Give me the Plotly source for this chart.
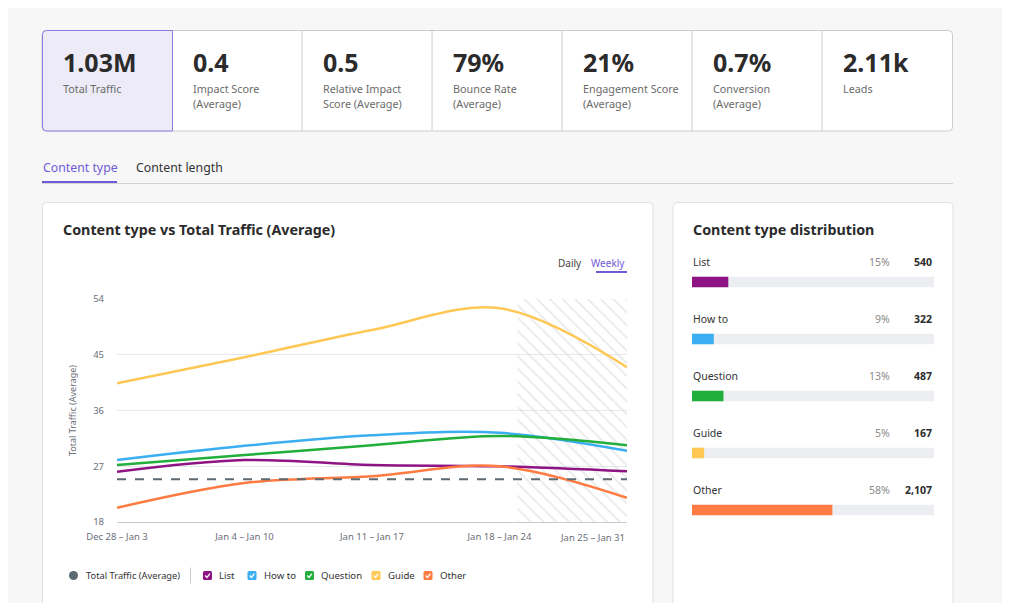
import plotly.graph_objects as go

# ---------------- data ----------------
weeks = ["Dec 28 – Jan 3", "Jan 4 – Jan 10", "Jan 11 – Jan 17", "Jan 18 – Jan 24", "Jan 25 – Jan 31"]
list_vals = [26.1, 28.0, 27.2, 27.0, 26.2]
howto_vals = [28.0, 30.3, 32.0, 32.4, 29.5]
question_vals = [27.2, 28.8, 30.4, 31.9, 30.4]
guide_vals = [40.4, 44.6, 49.0, 52.5, 43.0]
other_vals = [20.3, 24.3, 25.4, 27.0, 21.9]
total_avg = 24.9
y_ticks = [18, 27, 36, 45, 54]
partial_start = 3.14  # start of the incomplete-data period (in week index units)

kpi_values = ["1.03M", "0.4", "0.5", "79%", "21%", "0.7%", "2.11k"]
kpi_labels = [["Total Traffic"], ["Impact Score", "(Average)"], ["Relative Impact", "Score (Average)"],
              ["Bounce Rate", "(Average)"], ["Engagement Score", "(Average)"], ["Conversion", "(Average)"],
              ["Leads"]]

dist_types = ["List", "How to", "Question", "Guide", "Other"]
dist_pct = [15, 9, 13, 5, 58]
dist_counts = ["540", "322", "487", "167", "2,107"]

series_names = ["List", "How to", "Question", "Guide", "Other"]
series_vals = [list_vals, howto_vals, question_vals, guide_vals, other_vals]
colors = ["#8e1484", "#3aaef0", "#21ae3a", "#ffc754", "#ff7b42"]

FONT = "Noto Sans"
W, H = 1010, 603
OX, OY = 8, 8  # page offset of the figure div (body margin)
PURPLE = "#6f5bd6"
TICKFONT = dict(family=FONT, size=9.5, color="#6b6e78")


def X(px):
    return (px - OX) / W


def Y(py):
    return 1 - (py - OY) / H


def rpath(x0, y0, x1, y1, r, corners=(1, 1, 1, 1)):
    # corners: tl, tr, br, bl
    tl, tr, br, bl = [r * c for c in corners]
    p = f"M {X(x0 + tl)},{Y(y0)} L {X(x1 - tr)},{Y(y0)} "
    p += f"Q {X(x1)},{Y(y0)} {X(x1)},{Y(y0 + tr)} L {X(x1)},{Y(y1 - br)} "
    p += f"Q {X(x1)},{Y(y1)} {X(x1 - br)},{Y(y1)} L {X(x0 + bl)},{Y(y1)} "
    p += f"Q {X(x0)},{Y(y1)} {X(x0)},{Y(y1 - bl)} L {X(x0)},{Y(y0 + tl)} "
    p += f"Q {X(x0)},{Y(y0)} {X(x0 + tl)},{Y(y0)} Z"
    return p


fig = go.Figure()

# hatched partial-period region
fig.add_trace(go.Scatter(
    x=[partial_start, 4, 4, partial_start, partial_start],
    y=[y_ticks[0], y_ticks[0], y_ticks[-1], y_ticks[-1], y_ticks[0]],
    fill="toself", mode="lines", line=dict(width=0),
    fillcolor="rgba(255,255,255,0)",
    fillpattern=dict(shape="\\", fgcolor="#d4d4d4", bgcolor="rgba(255,255,255,0)", size=9, solidity=0.2),
    hoverinfo="skip", showlegend=False, xaxis="x", yaxis="y"))

xs = list(range(len(weeks)))
for name, vals, col in zip(series_names, series_vals, colors):
    fig.add_trace(go.Scatter(x=xs, y=vals, mode="lines", name=name,
                             line=dict(color=col, width=2.5, shape="spline", smoothing=1.0),
                             showlegend=False, xaxis="x", yaxis="y"))

fig.add_trace(go.Scatter(x=[0, 4], y=[total_avg, total_avg], mode="lines", name="Total Traffic (Average)",
                         line=dict(color="#5d6a72", width=2, dash="dash"), showlegend=False,
                         xaxis="x", yaxis="y"))

# distribution bars
idx = list(range(len(dist_types)))
fig.add_trace(go.Bar(x=[100] * len(idx), y=idx, orientation="h", marker=dict(color="#eceef1", line=dict(width=0)),
                     width=0.185, hoverinfo="skip", showlegend=False, xaxis="x2", yaxis="y2"))
fig.add_trace(go.Bar(x=dist_pct, y=idx, orientation="h", marker=dict(color=colors, line=dict(width=0)),
                     width=0.185, showlegend=False, xaxis="x2", yaxis="y2"))

shapes = []
ann = []

# KPI cards
shapes.append(dict(type="path", xref="paper", yref="paper", path=rpath(42, 30.5, 952.5, 131, 4),
                   fillcolor="white", line=dict(color="#c6ced2", width=1), layer="below"))
for i in range(2, 7):
    xx = 42 + 130 * i
    shapes.append(dict(type="line", xref="paper", yref="paper", x0=X(xx), x1=X(xx), y0=Y(30.5), y1=Y(131),
                       line=dict(color="#c6ced2", width=1), layer="below"))
shapes.append(dict(type="path", xref="paper", yref="paper", path=rpath(42.5, 30.5, 172.5, 131, 4, (1, 0, 0, 1)),
                   fillcolor="#ecebf7", line=dict(color="#8b7de0", width=1), layer="below"))
for i, (v, labs) in enumerate(zip(kpi_values, kpi_labels)):
    x0 = 62 + 130 * i
    ann.append(dict(x=X(x0 - 1), y=Y(62), xref="paper", yref="paper", text=f"<b>{v}</b>", showarrow=False,
                    xanchor="left", yanchor="middle", font=dict(family=FONT, size=25, color="#2b2b2b")))
    for j, lab in enumerate(labs):
        ann.append(dict(x=X(x0 - 1), y=Y(89 + 15 * j), xref="paper", yref="paper", text=lab, showarrow=False,
                        xanchor="left", yanchor="middle", font=dict(family=FONT, size=10.8, color="#6b6b6b")))

# tabs
ann.append(dict(x=X(41), y=Y(167), xref="paper", yref="paper", text="Content type", showarrow=False,
                xanchor="left", yanchor="middle", font=dict(family=FONT, size=12.3, color=PURPLE)))
ann.append(dict(x=X(134), y=Y(167), xref="paper", yref="paper", text="Content length", showarrow=False,
                xanchor="left", yanchor="middle", font=dict(family=FONT, size=12.3, color="#333333")))
shapes.append(dict(type="line", xref="paper", yref="paper", x0=X(42), x1=X(953), y0=Y(183.5), y1=Y(183.5),
                   line=dict(color="#d3d3d3", width=1), layer="below"))
shapes.append(dict(type="line", xref="paper", yref="paper", x0=X(42), x1=X(117), y0=Y(182), y1=Y(182),
                   line=dict(color=PURPLE, width=2)))

# panels
shapes.append(dict(type="path", xref="paper", yref="paper", path=rpath(42.5, 202.5, 653, 640, 4),
                   fillcolor="white", line=dict(color="#e1e1e1", width=1), layer="below"))
shapes.append(dict(type="path", xref="paper", yref="paper", path=rpath(673, 202.5, 953, 640, 4),
                   fillcolor="white", line=dict(color="#e1e1e1", width=1), layer="below"))

ann.append(dict(x=X(61), y=Y(229), xref="paper", yref="paper", text="<b>Content type vs Total Traffic (Average)</b>",
                showarrow=False, xanchor="left", yanchor="middle", font=dict(family=FONT, size=14.3, color="#2b2b2b")))
ann.append(dict(x=X(691), y=Y(229), xref="paper", yref="paper", text="<b>Content type distribution</b>",
                showarrow=False, xanchor="left", yanchor="middle", font=dict(family=FONT, size=14.3, color="#2b2b2b")))

# Daily / Weekly toggle
ann.append(dict(x=X(584), y=Y(263), xref="paper", yref="paper", text="Daily", showarrow=False,
                xanchor="right", yanchor="middle", font=dict(family=FONT, size=10, color="#444444")))
ann.append(dict(x=X(627), y=Y(263), xref="paper", yref="paper", text="Weekly", showarrow=False,
                xanchor="right", yanchor="middle", font=dict(family=FONT, size=10, color=PURPLE)))
shapes.append(dict(type="line", xref="paper", yref="paper", x0=X(596), x1=X(627), y0=Y(272), y1=Y(272),
                   line=dict(color=PURPLE, width=2)))

# last week label is right-aligned to the plot edge
ann.append(dict(x=xs[-1], y=Y(537), xref="x", yref="paper", text=weeks[-1], showarrow=False,
                xanchor="right", yanchor="middle", font=TICKFONT))

# custom legend
ly = 575.5
shapes.append(dict(type="circle", xref="paper", yref="paper", x0=X(69), x1=X(78), y0=Y(ly - 4.5), y1=Y(ly + 4.5),
                   fillcolor="#5d6a72", line=dict(width=0)))
ann.append(dict(x=X(84), y=Y(ly), xref="paper", yref="paper", text="Total Traffic (Average)", showarrow=False,
                xanchor="left", yanchor="middle", font=dict(family=FONT, size=9.3, color="#333333")))
shapes.append(dict(type="line", xref="paper", yref="paper", x0=X(190.5), x1=X(190.5), y0=Y(ly - 8), y1=Y(ly + 8),
                   line=dict(color="#cccccc", width=1)))
box_x = [203, 247.5, 305, 371.5, 423.5]
for bx, name, col in zip(box_x, series_names, colors):
    shapes.append(dict(type="path", xref="paper", yref="paper", path=rpath(bx, ly - 4.5, bx + 9, ly + 4.5, 1.5),
                       fillcolor=col, line=dict(width=0)))
    shapes.append(dict(type="path", xref="paper", yref="paper",
                       path=f"M {X(bx + 2.2)},{Y(ly)} L {X(bx + 4)},{Y(ly + 1.9)} L {X(bx + 6.9)},{Y(ly - 1.9)}",
                       line=dict(color="white", width=1.3)))
    ann.append(dict(x=X(bx + 14), y=Y(ly), xref="paper", yref="paper", text=name, showarrow=False,
                    xanchor="left", yanchor="middle", font=dict(family=FONT, size=9.6, color="#333333")))

# distribution labels (in axis coordinates)
for i, (t, p, c) in enumerate(zip(dist_types, dist_pct, dist_counts)):
    ann.append(dict(x=0, y=i - 0.35, xref="x2", yref="y2", text=t, showarrow=False, xanchor="left",
                    yanchor="middle", xshift=-1, font=dict(family=FONT, size=10.5, color="#333333")))
    ann.append(dict(x=82.6, y=i - 0.35, xref="x2", yref="y2", text=f"{p}%", showarrow=False, xanchor="right",
                    yanchor="middle", font=dict(family=FONT, size=10.5, color="#8a8a8a")))
    ann.append(dict(x=100, y=i - 0.35, xref="x2", yref="y2", text=f"<b>{c}</b>", showarrow=False, xanchor="right",
                    yanchor="middle", font=dict(family=FONT, size=10.5, color="#2b2b2b")))

fig.update_layout(
    width=W, height=H, margin=dict(l=0, r=0, t=0, b=0, pad=0, autoexpand=False),
    paper_bgcolor="#f7f7f7", plot_bgcolor="rgba(0,0,0,0)",
    font=dict(family=FONT, color="#333333"),
    barmode="overlay", showlegend=False,
    shapes=shapes, annotations=ann,
    xaxis=dict(domain=[X(117), X(627)], range=[0, 4], tickvals=xs[:-1], ticktext=weeks[:-1], automargin=False,
               showgrid=False, zeroline=False, showline=True, linecolor="#c7ccd1", linewidth=1,
               ticks="", tickfont=TICKFONT, ticklabelstandoff=6,
               fixedrange=True),
    yaxis=dict(domain=[Y(522), Y(299)], range=[18, 54], tickvals=y_ticks, automargin=False,
               showgrid=True, gridcolor="#e6e8ea", gridwidth=1, zeroline=False, showline=False,
               ticks="", tickfont=TICKFONT, ticklabelstandoff=12,
               title=dict(text="Total Traffic (Average)", font=dict(family=FONT, size=9, color="#6b6e78"),
                          standoff=14),
               fixedrange=True),
    xaxis2=dict(domain=[X(692), X(934)], range=[0, 100], visible=False, anchor="y2", fixedrange=True,
                automargin=False),
    yaxis2=dict(domain=[Y(538.5), Y(253.5)], range=[4.5, -0.5], visible=False, anchor="x2", fixedrange=True,
                automargin=False),
)

fig.write_html("out.html")
